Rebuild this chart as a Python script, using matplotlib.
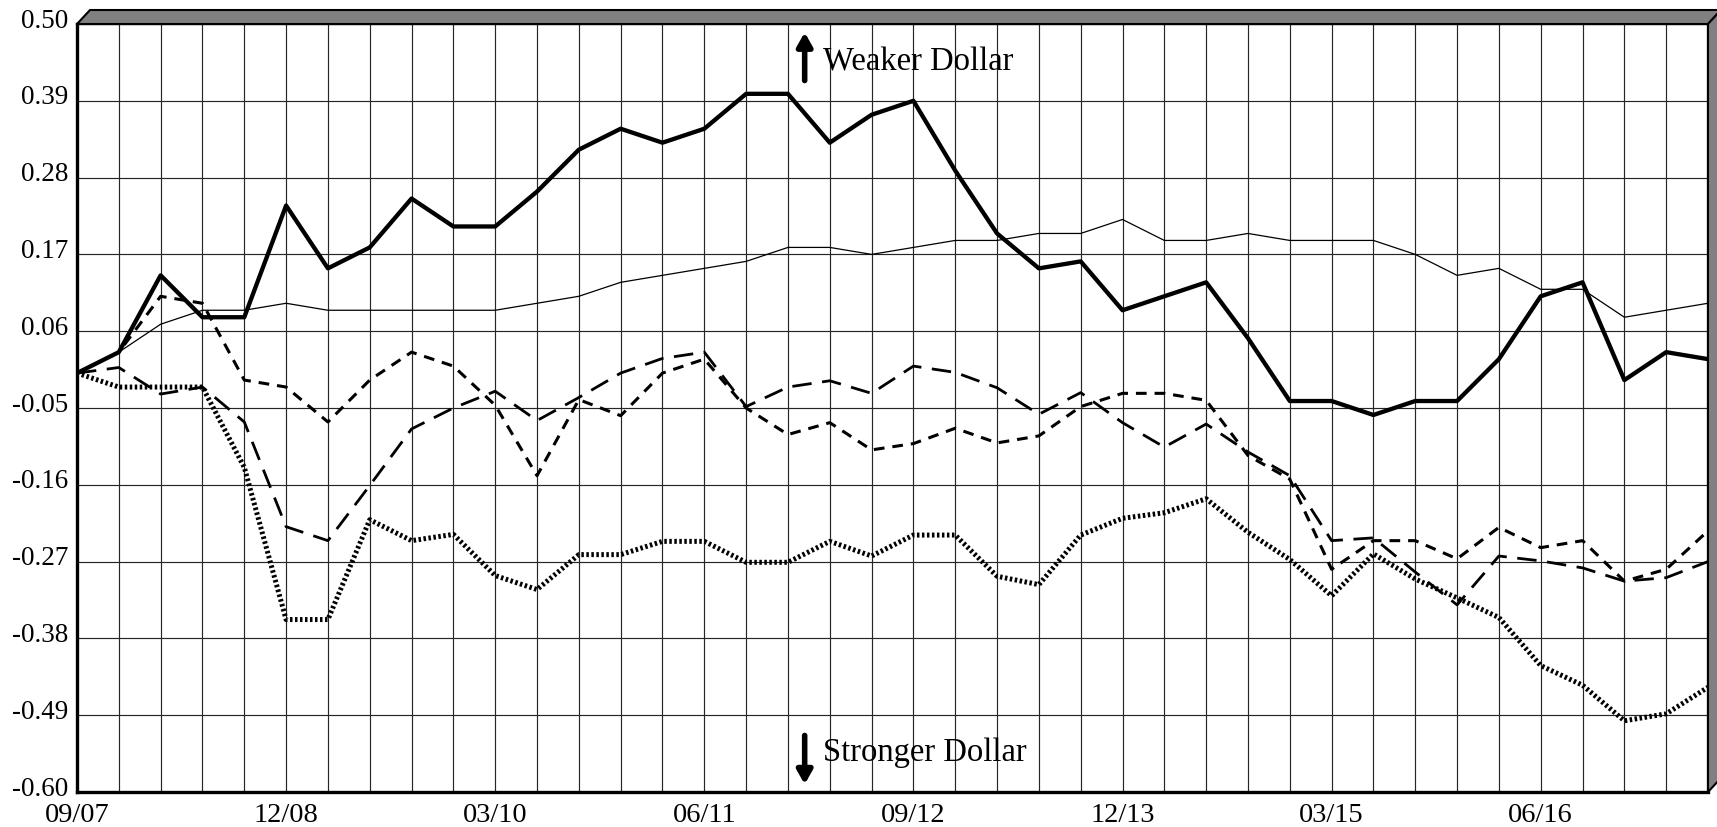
import matplotlib
matplotlib.use("Agg")
import matplotlib.pyplot as plt
from matplotlib.patches import Polygon
from matplotlib.transforms import ScaledTranslation

# quarterly observations 09/07 .. 06/17
x_labels = ["09/07", "12/08", "03/10", "06/11", "09/12", "12/13", "03/15", "06/16"]
y_ticks = [-0.60, -0.49, -0.38, -0.27, -0.16, -0.05, 0.06, 0.17, 0.28, 0.39, 0.50]

thick_solid = [0.00, 0.03, 0.14, 0.08, 0.08, 0.24, 0.15, 0.18, 0.25, 0.21,
               0.21, 0.26, 0.32, 0.35, 0.33, 0.35, 0.40, 0.40, 0.33, 0.37,
               0.39, 0.29, 0.20, 0.15, 0.16, 0.09, 0.11, 0.13, 0.05, -0.04,
               -0.04, -0.06, -0.04, -0.04, 0.02, 0.11, 0.13, -0.01, 0.03, 0.02]
thin_solid = [0.00, 0.03, 0.07, 0.09, 0.09, 0.10, 0.09, 0.09, 0.09, 0.09,
              0.09, 0.10, 0.11, 0.13, 0.14, 0.15, 0.16, 0.18, 0.18, 0.17,
              0.18, 0.19, 0.19, 0.20, 0.20, 0.22, 0.19, 0.19, 0.20, 0.19,
              0.19, 0.19, 0.17, 0.14, 0.15, 0.12, 0.12, 0.08, 0.09, 0.10]
short_dash = [0.00, 0.03, 0.11, 0.10, -0.01, -0.02, -0.07, -0.01, 0.03, 0.01,
              -0.046, -0.147, -0.038, -0.061, 0.00, 0.02, -0.05, -0.088, -0.071, -0.11,
              -0.101, -0.079, -0.10, -0.09, -0.048, -0.029, -0.029, -0.039, -0.118, -0.152,
              -0.281, -0.24, -0.24, -0.266, -0.221, -0.25, -0.24, -0.298, -0.281, -0.226]
long_dash = [0.00, 0.008, -0.03, -0.02, -0.07, -0.22, -0.24, -0.161, -0.08, -0.05,
             -0.026, -0.068, -0.035, 0.00, 0.021, 0.03, -0.048, -0.02, -0.011, -0.029,
             0.01, 0.001, -0.021, -0.059, -0.028, -0.071, -0.106, -0.073, -0.113, -0.147,
             -0.24, -0.236, -0.285, -0.332, -0.262, -0.269, -0.279, -0.298, -0.293, -0.27]
dotted = [0.00, -0.02, -0.02, -0.02, -0.135, -0.353, -0.353, -0.21, -0.24, -0.231,
          -0.29, -0.31, -0.26, -0.26, -0.241, -0.241, -0.271, -0.271, -0.241, -0.262,
          -0.232, -0.232, -0.291, -0.303, -0.232, -0.208, -0.20, -0.18, -0.228, -0.267,
          -0.319, -0.259, -0.295, -0.322, -0.35, -0.419, -0.447, -0.498, -0.488, -0.45]

plt.rcParams["font.family"] = ["Liberation Serif", "DejaVu Serif"]

W, H = 1717, 828
fig = plt.figure(figsize=(W / 100, H / 100), dpi=100)
L, R, T, B = 77, 1708, 25, 793
ax = fig.add_axes([L / W, 1 - B / H, (R - L) / W, (B - T) / H])

n = len(thick_solid)
xs = list(range(n))

ax.plot(xs, thin_solid, color="black", lw=0.9, zorder=3)
ax.plot(xs, short_dash, color="black", lw=2.2, dashes=(3.5, 2.6), zorder=3)
ax.plot(xs, long_dash, color="black", lw=2.0, dashes=(7, 3.8), zorder=3)
ax.plot(xs, dotted, color="black", lw=3.6, dashes=(0.5, 0.5),
        dash_capstyle="butt", zorder=3)
ax.plot(xs, thick_solid, color="black", lw=3.1, zorder=4)

ax.set_xlim(0, n - 1)
ax.set_ylim(-0.60, 0.50)
ax.set_xticks(xs)
ax.set_xticklabels([x_labels[i // 5] if i % 5 == 0 else "" for i in xs])
ax.set_yticks(y_ticks)
ax.set_yticklabels([f"{v:.2f}" for v in y_ticks])
ax.tick_params(length=0, colors="black")
ax.tick_params(axis="x", pad=7, labelsize=20.5)
ax.tick_params(axis="y", pad=6, labelsize=19.5)
for lab in ax.get_yticklabels():
    lab.set_transform(lab.get_transform() + ScaledTranslation(0, 0.07, fig.dpi_scale_trans))

ax.grid(True, color="#262626", lw=0.85, zorder=1)
ax.set_axisbelow(True)
for s in ("left", "bottom"):
    ax.spines[s].set_linewidth(2.4)
for s in ("top", "right"):
    ax.spines[s].set_linewidth(1.6)

# annotations
arrow = dict(arrowstyle="-|>,head_width=0.45,head_length=0.8", color="black", lw=4)
ax.annotate("", xy=(17.4, 0.492), xytext=(17.4, 0.415), arrowprops=arrow)
ax.text(17.85, 0.447, "Weaker Dollar", fontsize=23.5, va="center", ha="left")
ax.annotate("", xy=(17.4, -0.593), xytext=(17.4, -0.515), arrowprops=arrow)
ax.text(17.85, -0.543, "Stronger Dollar", fontsize=23.5, va="center", ha="left")

# 3D frame (top and right faces)
def fx(px):
    return px / W


def fy(py):
    return 1 - py / H


dx, dy = 13, 14
top_face = [(fx(L), fy(T)), (fx(L + dx), fy(T - dy)), (fx(R + dx), fy(T - dy)), (fx(R), fy(T))]
right_face = [(fx(R), fy(T)), (fx(R + dx), fy(T - dy)), (fx(R + dx), fy(B - dy)), (fx(R), fy(B))]
for pts in (top_face, right_face):
    fig.add_artist(Polygon(pts, closed=True, facecolor="#808080", edgecolor="black",
                           lw=1.5, transform=fig.transFigure))

fig.savefig("out.png", dpi=100, facecolor="white")
